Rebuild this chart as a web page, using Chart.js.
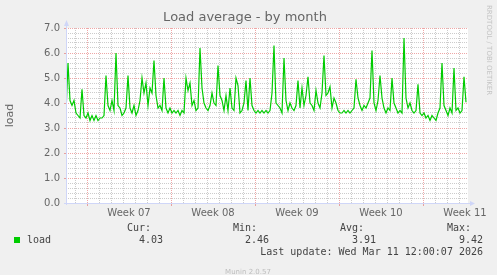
<!DOCTYPE html>
<html lang="en">

<head>
    <meta charset="UTF-8">
    <title>Load average - by month</title>
    <script src="https://cdn.jsdelivr.net/npm/chart.js"></script>
    <style>
        html, body {
            margin: 0;
            padding: 0;
            background-color: #f0f0f0;
        }

        #loadChart {
            display: block;
        }
    </style>
</head>

<body>
    <canvas id="loadChart" width="497" height="275"></canvas>

    <script>
        // data, one sample every 4 hours
        const seriesName = 'load';
        const stepHours = 4;
        const loadValues = [
            3.6, 5.6, 4.1, 3.9, 4.1, 3.6, 3.5, 3.4, 4.55, 3.5,
            3.4, 3.6, 3.3, 3.5, 3.3, 3.5, 3.3, 3.4, 3.4, 3.5,
            5.1, 3.9, 3.7, 4.1, 3.7, 6.0, 3.9, 3.8, 3.5, 3.6,
            3.8, 5.1, 3.8, 3.6, 3.9, 3.5, 3.7, 4.1, 5.0, 4.4,
            4.8, 3.9, 4.6, 4.4, 5.7, 4.3, 3.8, 3.9, 3.7, 5.0,
            3.8, 3.6, 3.8, 3.6, 3.7, 3.6, 3.7, 3.5, 3.7, 3.6,
            5.0, 4.5, 4.8, 3.9, 4.1, 3.7, 3.8, 6.2, 4.6, 4.0,
            3.8, 3.7, 3.9, 4.4, 4.0, 3.9, 5.5, 4.3, 4.1, 3.7,
            4.3, 3.7, 4.6, 3.8, 3.7, 5.0, 4.7, 3.6, 3.7, 4.0,
            4.9, 3.7, 5.0, 3.9, 3.7, 3.6, 3.7, 3.6, 3.7, 3.6,
            3.7, 3.6, 3.7, 4.4, 6.3, 4.0, 3.9, 3.8, 3.6, 5.8,
            4.1, 3.7, 4.0, 3.8, 3.7, 3.9, 4.9, 3.8, 4.6, 3.9,
            4.3, 5.05, 4.0, 3.9, 3.7, 4.5, 4.0, 3.8, 4.4, 5.9,
            4.3, 4.4, 4.65, 3.8, 4.2, 4.0, 3.7, 3.6, 3.6, 3.7,
            3.6, 3.7, 3.6, 3.7, 3.8, 4.95, 4.2, 3.9, 3.7, 3.9,
            3.8, 4.0, 4.2, 6.1, 4.0, 3.7, 4.1, 5.1, 4.2, 3.8,
            3.6, 3.8, 3.7, 5.0, 4.0, 3.8, 3.6, 3.7, 3.6, 6.6,
            4.2, 3.8, 4.0, 3.7, 3.6, 3.7, 4.75, 3.6, 3.5, 3.6,
            3.4, 3.5, 3.3, 3.5, 3.4, 3.3, 3.6, 3.8, 5.6, 3.9,
            3.7, 3.5, 3.8, 3.6, 5.4, 3.7, 3.8, 3.6, 3.7, 5.05,
            4.03
        ];

        // x axis in hours from the left edge of the graph
        const rangeHours = 804;
        const firstDayLine = 18;
        const firstWeekStart = 42;
        const weekLabels = ['Week 07', 'Week 08', 'Week 09', 'Week 10', 'Week 11'];

        const yMax = 7;
        const yMinorStep = 0.2;

        const legendHeads = ['Cur:', 'Min:', 'Avg:', 'Max:'];
        const legendValues = ['4.03', '2.46', '3.91', '9.42'];
        const lastUpdate = 'Last update: Wed Mar 11 12:00:07 2026';

        const FONT = '#666666';
        const AXIS = '#cfd6f8';
        const GRID = 'rgba(143,143,143,0.45)';
        const MGRID = 'rgba(222,79,79,0.5)';

        const points = loadValues.map((v, i) => ({ x: i * stepHours, y: v }));

        const weekMid = weekLabels.map((w, i) => firstWeekStart + 84 + i * 168);

        function isWeekLine(h) {
            return (h - firstWeekStart) % 168 === 0;
        }

        const munin = {
            id: 'munin',
            beforeDraw(chart) {
                const { ctx, chartArea: a } = chart;
                ctx.save();
                ctx.fillStyle = '#f0f0f0';
                ctx.fillRect(0, 0, chart.width, chart.height);
                ctx.fillStyle = '#ffffff';
                ctx.fillRect(a.left, a.top, a.right - a.left, a.bottom - a.top);
                ctx.restore();
            },
            afterDraw(chart) {
                const { ctx, chartArea: a } = chart;
                ctx.save();

                // axes + arrows
                ctx.strokeStyle = AXIS;
                ctx.fillStyle = AXIS;
                ctx.lineWidth = 1;
                ctx.beginPath();
                ctx.moveTo(a.left + 0.5, a.bottom + 2);
                ctx.lineTo(a.left + 0.5, a.top - 4);
                ctx.moveTo(a.left - 2, a.bottom + 0.5);
                ctx.lineTo(a.right + 4, a.bottom + 0.5);
                ctx.stroke();
                ctx.beginPath();
                ctx.moveTo(a.left - 2, a.top - 2);
                ctx.lineTo(a.left + 3, a.top - 2);
                ctx.lineTo(a.left + 0.5, a.top - 8);
                ctx.closePath();
                ctx.fill();
                ctx.beginPath();
                ctx.moveTo(a.right + 2, a.bottom - 2);
                ctx.lineTo(a.right + 2, a.bottom + 3);
                ctx.lineTo(a.right + 7, a.bottom + 0.5);
                ctx.closePath();
                ctx.fill();

                // title
                ctx.fillStyle = FONT;
                ctx.textAlign = 'center';
                ctx.textBaseline = 'middle';
                ctx.font = '13px "DejaVu Sans"';
                ctx.fillText('Load average - by month', 245, 18);

                // vertical axis title
                ctx.font = '11px "DejaVu Sans"';
                ctx.save();
                ctx.translate(10, (a.top + a.bottom) / 2);
                ctx.rotate(-Math.PI / 2);
                ctx.fillText(seriesName, 0, 0);
                ctx.restore();

                // rrdtool watermark
                ctx.fillStyle = '#c4c4c4';
                ctx.font = '7px "DejaVu Sans"';
                ctx.save();
                ctx.translate(489, 5);
                ctx.rotate(Math.PI / 2);
                ctx.textAlign = 'left';
                ctx.fillText('RRDTOOL / TOBI OETIKER', 0, 0);
                ctx.restore();

                // legend
                const cols = [163, 269, 376, 483];
                ctx.fillStyle = '#00cc00';
                ctx.fillRect(14, 237, 6, 6);
                ctx.fillStyle = '#444444';
                ctx.font = '10px "DejaVu Sans Mono"';
                ctx.textAlign = 'left';
                ctx.fillText(seriesName, 27, 240);
                ctx.textAlign = 'right';
                legendHeads.forEach((t, i) => ctx.fillText(t, cols[i] - 12, 228));
                legendValues.forEach((t, i) => ctx.fillText(t, cols[i], 240));
                ctx.fillText(lastUpdate, 483, 252);

                ctx.fillStyle = '#bdbdbd';
                ctx.font = '7px "DejaVu Sans"';
                ctx.textAlign = 'center';
                ctx.fillText('Munin 2.0.57', 248, 272);
                ctx.restore();
            }
        };

        new Chart(document.getElementById('loadChart'), {
            type: 'line',
            data: {
                datasets: [{
                    label: seriesName,
                    data: points,
                    borderColor: '#00cc00',
                    borderWidth: 1.2,
                    pointRadius: 0,
                    tension: 0,
                    fill: false
                }]
            },
            options: {
                responsive: false,
                animation: false,
                devicePixelRatio: 1,
                layout: { padding: { left: 0, right: 29, top: 28, bottom: 0 } },
                plugins: { legend: { display: false }, tooltip: { enabled: false } },
                scales: {
                    x: {
                        type: 'linear',
                        min: 0,
                        max: rangeHours,
                        afterFit(scale) { scale.height = 72; },
                        afterBuildTicks(scale) {
                            const ticks = [];
                            for (let h = firstDayLine; h < rangeHours; h += 24) ticks.push({ value: h });
                            weekMid.forEach(h => ticks.push({ value: h }));
                            ticks.sort((p, q) => p.value - q.value);
                            scale.ticks = ticks;
                        },
                        ticks: {
                            autoSkip: false,
                            maxRotation: 0,
                            padding: 1,
                            color: FONT,
                            font: { family: 'DejaVu Sans', size: 10 },
                            callback(value) {
                                const i = weekMid.indexOf(value);
                                return i >= 0 ? weekLabels[i] : '';
                            }
                        },
                        grid: {
                            drawTicks: true,
                            tickLength: 3,
                            color(c) {
                                const h = c.tick ? c.tick.value : 0;
                                if (weekMid.includes(h)) return 'rgba(0,0,0,0)';
                                return isWeekLine(h) ? MGRID : GRID;
                            },
                            tickColor(c) {
                                const h = c.tick ? c.tick.value : 0;
                                if (weekMid.includes(h)) return 'rgba(0,0,0,0)';
                                return isWeekLine(h) ? MGRID : 'rgba(0,0,0,0)';
                            }
                        },
                        border: { display: false, dash: [1, 1] }
                    },
                    y: {
                        min: 0,
                        max: yMax,
                        afterFit(scale) { scale.width = 66; },
                        afterBuildTicks(scale) {
                            const ticks = [];
                            const n = Math.round(yMax / yMinorStep);
                            for (let k = 0; k <= n; k++) ticks.push({ value: +(k * yMinorStep).toFixed(1) });
                            scale.ticks = ticks;
                        },
                        ticks: {
                            autoSkip: false,
                            padding: 4,
                            color: FONT,
                            font: { family: 'DejaVu Sans', size: 10 },
                            callback(value) {
                                return Number.isInteger(value) ? value.toFixed(1) : '';
                            }
                        },
                        grid: {
                            drawTicks: true,
                            tickLength: 2,
                            color(c) {
                                const v = c.tick ? c.tick.value : 0;
                                return Number.isInteger(v) ? MGRID : GRID;
                            },
                            tickColor(c) {
                                const v = c.tick ? c.tick.value : 0;
                                return Number.isInteger(v) ? MGRID : 'rgba(0,0,0,0)';
                            }
                        },
                        border: { display: false, dash: [1, 1] }
                    }
                }
            },
            plugins: [munin]
        });
    </script>
</body>

</html>
